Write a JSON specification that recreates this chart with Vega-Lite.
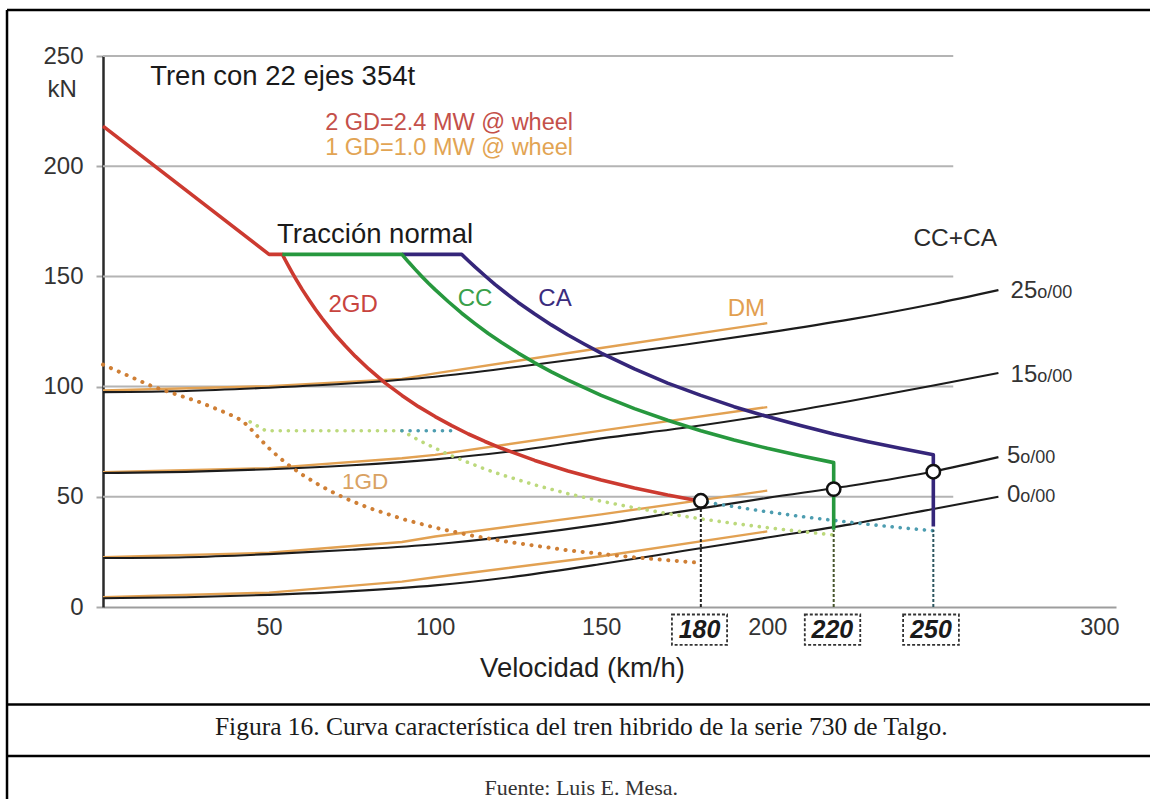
{
  "$schema": "https://vega.github.io/schema/vega-lite/v6.json",
  "width": 1013,
  "height": 551,
  "autosize": {"type": "none"},
  "padding": {"left": 103, "top": 56, "right": 34, "bottom": 192},
  "background": "white",
  "config": {"view": {"stroke": null}, "font": "Liberation Sans"},
  "datasets": {
    "curves": [
      {"s":"g25","i":0,"v":0,"f":97.5},{"s":"g25","i":1,"v":25,"f":98},{"s":"g25","i":2,"v":50,"f":99.5},{"s":"g25","i":3,"v":75,"f":101.5},{"s":"g25","i":4,"v":100,"f":104.5},{"s":"g25","i":5,"v":125,"f":109},{"s":"g25","i":6,"v":150,"f":114},{"s":"g25","i":7,"v":175,"f":119},{"s":"g25","i":8,"v":200,"f":124.5},{"s":"g25","i":9,"v":225,"f":130.5},{"s":"g25","i":10,"v":250,"f":137.5},{"s":"g25","i":11,"v":269.6,"f":143.8},
      {"s":"g15","i":0,"v":0,"f":60.8},{"s":"g15","i":1,"v":25,"f":61.3},{"s":"g15","i":2,"v":50,"f":62.5},{"s":"g15","i":3,"v":75,"f":64.3},{"s":"g15","i":4,"v":100,"f":67},{"s":"g15","i":5,"v":125,"f":71},{"s":"g15","i":6,"v":150,"f":76.5},{"s":"g15","i":7,"v":175,"f":81.3},{"s":"g15","i":8,"v":200,"f":87},{"s":"g15","i":9,"v":225,"f":93.5},{"s":"g15","i":10,"v":250,"f":100.5},{"s":"g15","i":11,"v":269.6,"f":106.2},
      {"s":"g5","i":0,"v":0,"f":22.2},{"s":"g5","i":1,"v":25,"f":22.6},{"s":"g5","i":2,"v":50,"f":24},{"s":"g5","i":3,"v":75,"f":26},{"s":"g5","i":4,"v":100,"f":28.5},{"s":"g5","i":5,"v":125,"f":32.5},{"s":"g5","i":6,"v":150,"f":37.5},{"s":"g5","i":7,"v":175,"f":43.5},{"s":"g5","i":8,"v":200,"f":49.5},{"s":"g5","i":9,"v":225,"f":55},{"s":"g5","i":10,"v":250,"f":61.5},{"s":"g5","i":11,"v":269.6,"f":68},
      {"s":"g0","i":0,"v":0,"f":4},{"s":"g0","i":1,"v":25,"f":4.4},{"s":"g0","i":2,"v":50,"f":5.5},{"s":"g0","i":3,"v":75,"f":7.2},{"s":"g0","i":4,"v":100,"f":9.8},{"s":"g0","i":5,"v":125,"f":14},{"s":"g0","i":6,"v":150,"f":19.5},{"s":"g0","i":7,"v":175,"f":25.5},{"s":"g0","i":8,"v":200,"f":31.5},{"s":"g0","i":9,"v":225,"f":37.5},{"s":"g0","i":10,"v":250,"f":44.5},{"s":"g0","i":11,"v":269.6,"f":50},
      {"s":"dm25","i":0,"v":0,"f":98.2},{"s":"dm25","i":1,"v":50,"f":100.2},{"s":"dm25","i":2,"v":90,"f":103.5},{"s":"dm25","i":3,"v":100,"f":106},{"s":"dm25","i":4,"v":150,"f":117.5},{"s":"dm25","i":5,"v":200,"f":128.8},
      {"s":"dm15","i":0,"v":0,"f":61.2},{"s":"dm15","i":1,"v":50,"f":63},{"s":"dm15","i":2,"v":90,"f":67.5},{"s":"dm15","i":3,"v":100,"f":69},{"s":"dm15","i":4,"v":150,"f":80},{"s":"dm15","i":5,"v":200,"f":90.7},
      {"s":"dm5","i":0,"v":0,"f":22.6},{"s":"dm5","i":1,"v":50,"f":24.6},{"s":"dm5","i":2,"v":90,"f":29.5},{"s":"dm5","i":3,"v":100,"f":32},{"s":"dm5","i":4,"v":150,"f":42},{"s":"dm5","i":5,"v":200,"f":52.8},
      {"s":"dm0","i":0,"v":0,"f":4.5},{"s":"dm0","i":1,"v":50,"f":6.5},{"s":"dm0","i":2,"v":90,"f":11.5},{"s":"dm0","i":3,"v":100,"f":13.5},{"s":"dm0","i":4,"v":150,"f":23},{"s":"dm0","i":5,"v":200,"f":34.3},
      {"s":"gd2","i":0,"v":0,"f":218.2},{"s":"gd2","i":1,"v":50,"f":160},{"s":"gd2","i":2,"v":54,"f":160},{"s":"gd2","i":3,"v":55,"f":157.1},{"s":"gd2","i":4,"v":56,"f":154.3},{"s":"gd2","i":5,"v":57,"f":151.6},{"s":"gd2","i":6,"v":58,"f":149},{"s":"gd2","i":7,"v":60,"f":144},{"s":"gd2","i":8,"v":62,"f":139.4},{"s":"gd2","i":9,"v":64,"f":135},{"s":"gd2","i":10,"v":66,"f":130.9},{"s":"gd2","i":11,"v":68,"f":127.1},{"s":"gd2","i":12,"v":70,"f":123.4},{"s":"gd2","i":13,"v":73,"f":118.4},{"s":"gd2","i":14,"v":76,"f":113.7},{"s":"gd2","i":15,"v":80,"f":108},{"s":"gd2","i":16,"v":85,"f":101.6},{"s":"gd2","i":17,"v":90,"f":96},{"s":"gd2","i":18,"v":95,"f":90.9},{"s":"gd2","i":19,"v":100,"f":86.4},{"s":"gd2","i":20,"v":105,"f":82.3},{"s":"gd2","i":21,"v":110,"f":78.5},{"s":"gd2","i":22,"v":115,"f":75.1},{"s":"gd2","i":23,"v":120,"f":72},{"s":"gd2","i":24,"v":130,"f":66.5},{"s":"gd2","i":25,"v":140,"f":61.7},{"s":"gd2","i":26,"v":150,"f":57.6},{"s":"gd2","i":27,"v":160,"f":54},{"s":"gd2","i":28,"v":170,"f":50.8},{"s":"gd2","i":29,"v":180,"f":48},
      {"s":"cc","i":0,"v":54,"f":160},{"s":"cc","i":1,"v":90,"f":160},{"s":"cc","i":2,"v":92,"f":156.5},{"s":"cc","i":3,"v":94,"f":153.2},{"s":"cc","i":4,"v":96,"f":150},{"s":"cc","i":5,"v":98,"f":146.9},{"s":"cc","i":6,"v":100,"f":144},{"s":"cc","i":7,"v":104,"f":138.5},{"s":"cc","i":8,"v":108,"f":133.3},{"s":"cc","i":9,"v":112,"f":128.6},{"s":"cc","i":10,"v":116,"f":124.1},{"s":"cc","i":11,"v":120,"f":120},{"s":"cc","i":12,"v":125,"f":115.2},{"s":"cc","i":13,"v":130,"f":110.8},{"s":"cc","i":14,"v":135,"f":106.7},{"s":"cc","i":15,"v":140,"f":102.9},{"s":"cc","i":16,"v":150,"f":96},{"s":"cc","i":17,"v":160,"f":90},{"s":"cc","i":18,"v":170,"f":84.7},{"s":"cc","i":19,"v":180,"f":80},{"s":"cc","i":20,"v":190,"f":75.8},{"s":"cc","i":21,"v":200,"f":72},{"s":"cc","i":22,"v":210,"f":68.6},{"s":"cc","i":23,"v":220,"f":65.5},{"s":"cc","i":24,"v":220,"f":35},
      {"s":"ca","i":0,"v":90,"f":160},{"s":"ca","i":1,"v":108,"f":160},{"s":"ca","i":2,"v":110,"f":157.1},{"s":"ca","i":3,"v":112,"f":154.3},{"s":"ca","i":4,"v":115,"f":150.3},{"s":"ca","i":5,"v":118,"f":146.4},{"s":"ca","i":6,"v":121,"f":142.8},{"s":"ca","i":7,"v":125,"f":138.2},{"s":"ca","i":8,"v":130,"f":132.9},{"s":"ca","i":9,"v":135,"f":128},{"s":"ca","i":10,"v":140,"f":123.4},{"s":"ca","i":11,"v":145,"f":119.2},{"s":"ca","i":12,"v":150,"f":115.2},{"s":"ca","i":13,"v":160,"f":108},{"s":"ca","i":14,"v":170,"f":101.6},{"s":"ca","i":15,"v":180,"f":96},{"s":"ca","i":16,"v":190,"f":90.9},{"s":"ca","i":17,"v":200,"f":86.4},{"s":"ca","i":18,"v":210,"f":82.3},{"s":"ca","i":19,"v":220,"f":78.5},{"s":"ca","i":20,"v":230,"f":75.1},{"s":"ca","i":21,"v":240,"f":72},{"s":"ca","i":22,"v":250,"f":69.1},{"s":"ca","i":23,"v":250,"f":36.5},
      {"s":"gd1","i":0,"v":0,"f":110},{"s":"gd1","i":1,"v":15,"f":100},{"s":"gd1","i":2,"v":29,"f":93},{"s":"gd1","i":3,"v":38,"f":87.5},{"s":"gd1","i":4,"v":42,"f":84.5},{"s":"gd1","i":5,"v":45,"f":80},{"s":"gd1","i":6,"v":47,"f":76.6},{"s":"gd1","i":7,"v":50,"f":72},{"s":"gd1","i":8,"v":53,"f":67.9},{"s":"gd1","i":9,"v":56,"f":64.3},{"s":"gd1","i":10,"v":60,"f":60},{"s":"gd1","i":11,"v":65,"f":55.4},{"s":"gd1","i":12,"v":70,"f":51.4},{"s":"gd1","i":13,"v":75,"f":48},{"s":"gd1","i":14,"v":80,"f":45},{"s":"gd1","i":15,"v":90,"f":40},{"s":"gd1","i":16,"v":100,"f":36},{"s":"gd1","i":17,"v":110,"f":32.7},{"s":"gd1","i":18,"v":120,"f":30},{"s":"gd1","i":19,"v":140,"f":25.7},{"s":"gd1","i":20,"v":160,"f":22.5},{"s":"gd1","i":21,"v":180,"f":20},
      {"s":"lg","i":0,"v":44.3,"f":84},{"s":"lg","i":1,"v":49,"f":80},{"s":"lg","i":2,"v":90,"f":80},{"s":"lg","i":3,"v":93,"f":77.4},{"s":"lg","i":4,"v":96,"f":75},{"s":"lg","i":5,"v":100,"f":72},{"s":"lg","i":6,"v":105,"f":68.6},{"s":"lg","i":7,"v":110,"f":65.5},{"s":"lg","i":8,"v":115,"f":62.6},{"s":"lg","i":9,"v":120,"f":60},{"s":"lg","i":10,"v":130,"f":55.4},{"s":"lg","i":11,"v":140,"f":51.4},{"s":"lg","i":12,"v":150,"f":48},{"s":"lg","i":13,"v":160,"f":45},{"s":"lg","i":14,"v":170,"f":42.4},{"s":"lg","i":15,"v":180,"f":40},{"s":"lg","i":16,"v":190,"f":37.9},{"s":"lg","i":17,"v":200,"f":36},{"s":"lg","i":18,"v":210,"f":34.3},{"s":"lg","i":19,"v":220,"f":32.7},
      {"s":"teal1","i":0,"v":90,"f":80},{"s":"teal1","i":1,"v":105,"f":80},
      {"s":"teal2","i":0,"v":182,"f":47.5},{"s":"teal2","i":1,"v":190,"f":45.5},{"s":"teal2","i":2,"v":200,"f":43.2},{"s":"teal2","i":3,"v":210,"f":41.1},{"s":"teal2","i":4,"v":220,"f":39.3},{"s":"teal2","i":5,"v":230,"f":37.6},{"s":"teal2","i":6,"v":240,"f":36},{"s":"teal2","i":7,"v":250,"f":34.6}
    ]
  },
  "encoding": {
    "x": {"field": "v", "type": "quantitative",
      "scale": {"domain": [0, 305], "nice": false, "zero": false},
      "axis": {"values": [50, 100, 150, 200, 300], "grid": false, "ticks": false, "tickSize": 0,
        "domainColor": "#9d9d9d", "domainWidth": 2,
        "labelFont": "Liberation Sans", "labelFontSize": 23.5, "labelColor": "#333333", "labelPadding": 8,
        "title": "Velocidad (km/h)", "titleFont": "Liberation Sans", "titleFontSize": 27.5, "titleFontWeight": "normal",
        "titleColor": "#1f1f1f", "titleX": 479, "titleY": 61, "titleAlign": "center", "titleBaseline": "middle"}},
    "y": {"field": "f", "type": "quantitative",
      "scale": {"domain": [0, 250], "nice": false, "zero": false},
      "axis": {"values": [0, 50, 100, 150, 200, 250], "grid": false, "ticks": true, "tickSize": 7, "tickWidth": 2,
        "tickColor": "#aaaaaa", "domainColor": "#2a2a2a", "domainWidth": 2.5,
        "labelFont": "Liberation Sans", "labelFontSize": 24, "labelColor": "#333333", "labelPadding": 13,
        "title": null}}
  },
  "layer": [
    {
      "data": {"values": [
        {"v": -28.9, "v2": 316, "f": 270.9, "f2": 270.9},
        {"v": -28.9, "v2": -28.9, "f": 270.9, "f2": -88},
        {"v": -28.9, "v2": 316, "f": -44.2, "f2": -44.2},
        {"v": -28.9, "v2": 316, "f": -67.6, "f2": -67.6}
      ]},
      "mark": {"type": "rule", "color": "#000000", "strokeWidth": 2.5},
      "encoding": {"x2": {"field": "v2"}, "y2": {"field": "f2"}}
    },
    {
      "data": {"values": [
        {"v": 0, "v2": 256, "f": 50}, {"v": 0, "v2": 256, "f": 100}, {"v": 0, "v2": 256, "f": 150},
        {"v": 0, "v2": 256, "f": 200}, {"v": 0, "v2": 256, "f": 250}
      ]},
      "mark": {"type": "rule", "color": "#b4b4b4", "strokeWidth": 2},
      "encoding": {"x2": {"field": "v2"}}
    },
    {
      "data": {"name": "curves"},
      "transform": [{"filter": {"field": "s", "oneOf": ["dm25", "dm15", "dm5", "dm0"]}}],
      "mark": {"type": "line", "color": "#e2a152", "strokeWidth": 2.4},
      "encoding": {"detail": {"field": "s"}, "order": {"field": "i", "type": "quantitative"}}
    },
    {
      "data": {"name": "curves"},
      "transform": [{"filter": {"field": "s", "oneOf": ["g25", "g15", "g5", "g0"]}}],
      "mark": {"type": "line", "color": "#1c1c1c", "strokeWidth": 2.1, "interpolate": "monotone"},
      "encoding": {"detail": {"field": "s"}, "order": {"field": "i", "type": "quantitative"}}
    },
    {
      "data": {"name": "curves"},
      "transform": [{"filter": {"field": "s", "equal": "gd1"}}],
      "mark": {"type": "line", "color": "#cf7f35", "strokeWidth": 4, "strokeDash": [0.1, 8.5], "strokeCap": "round"},
      "encoding": {"order": {"field": "i", "type": "quantitative"}}
    },
    {
      "data": {"name": "curves"},
      "transform": [{"filter": {"field": "s", "equal": "lg"}}],
      "mark": {"type": "line", "color": "#bcd97c", "strokeWidth": 3.6, "strokeDash": [0.1, 8], "strokeCap": "round"},
      "encoding": {"order": {"field": "i", "type": "quantitative"}}
    },
    {
      "data": {"name": "curves"},
      "transform": [{"filter": {"field": "s", "oneOf": ["teal1", "teal2"]}}],
      "mark": {"type": "line", "color": "#4d9db0", "strokeWidth": 3.6, "strokeDash": [0.1, 8], "strokeCap": "round"},
      "encoding": {"detail": {"field": "s"}, "order": {"field": "i", "type": "quantitative"}}
    },
    {
      "data": {"values": [{"v": 180, "f": 0, "f2": 47}]},
      "mark": {"type": "rule", "color": "#222222", "strokeWidth": 2, "strokeDash": [3, 2]},
      "encoding": {"y2": {"field": "f2"}}
    },
    {
      "data": {"values": [{"v": 220, "f": 0, "f2": 35}]},
      "mark": {"type": "rule", "color": "#46552c", "strokeWidth": 2, "strokeDash": [3, 2]},
      "encoding": {"y2": {"field": "f2"}}
    },
    {
      "data": {"values": [{"v": 250, "f": 0, "f2": 35}]},
      "mark": {"type": "rule", "color": "#2c5660", "strokeWidth": 2, "strokeDash": [3, 2]},
      "encoding": {"y2": {"field": "f2"}}
    },
    {
      "data": {"name": "curves"},
      "transform": [{"filter": {"field": "s", "equal": "gd2"}}],
      "mark": {"type": "line", "color": "#cc3a30", "strokeWidth": 3.6, "strokeJoin": "round"},
      "encoding": {"order": {"field": "i", "type": "quantitative"}}
    },
    {
      "data": {"name": "curves"},
      "transform": [{"filter": {"field": "s", "equal": "ca"}}],
      "mark": {"type": "line", "color": "#35267a", "strokeWidth": 3.6, "strokeJoin": "round"},
      "encoding": {"order": {"field": "i", "type": "quantitative"}}
    },
    {
      "data": {"name": "curves"},
      "transform": [{"filter": {"field": "s", "equal": "cc"}}],
      "mark": {"type": "line", "color": "#27983e", "strokeWidth": 3.6, "strokeJoin": "round"},
      "encoding": {"order": {"field": "i", "type": "quantitative"}}
    },
    {
      "data": {"values": [{"v": 180, "f": 48.2}, {"v": 220, "f": 53.5}, {"v": 250, "f": 61.4}]},
      "mark": {"type": "point", "shape": "circle", "filled": true, "fill": "#ffffff", "stroke": "#111111", "strokeWidth": 2.5, "size": 180, "opacity": 1}
    },
    {
      "data": {"values": [
        {"v": 171.3, "v2": 187.9, "f": -3.4, "f2": -17.2},
        {"v": 211.3, "v2": 228, "f": -3.4, "f2": -17.2},
        {"v": 240.9, "v2": 257.7, "f": -3.4, "f2": -17.2}
      ]},
      "mark": {"type": "rect", "fill": "#ffffff", "stroke": "#333333", "strokeWidth": 1.8, "strokeDash": [3, 2]},
      "encoding": {"x2": {"field": "v2"}, "y2": {"field": "f2"}}
    },
    {
      "data": {"values": [{"t": "180", "v": 179.6, "f": -10.4}, {"t": "220", "v": 219.6, "f": -10.4}, {"t": "250", "v": 249.3, "f": -10.4}]},
      "mark": {"type": "text", "font": "Liberation Sans", "fontSize": 25, "fontWeight": "bold", "fontStyle": "italic", "color": "#1a1a1a", "align": "center", "baseline": "middle"},
      "encoding": {"text": {"field": "t"}}
    },
    {
      "data": {"values": [{"t": "Tren con 22 ejes 354t", "v": 14.2, "f": 240.5}, {"t": "Tracción normal", "v": 52.4, "f": 168.8}]},
      "mark": {"type": "text", "font": "Liberation Sans", "fontSize": 27.5, "color": "#1a1a1a", "align": "left", "baseline": "middle"},
      "encoding": {"text": {"field": "t"}}
    },
    {
      "data": {"values": [{"t": "2 GD=2.4 MW @ wheel", "v": 66.9, "f": 219.4}]},
      "mark": {"type": "text", "font": "Liberation Sans", "fontSize": 23.5, "color": "#c4504a", "align": "left", "baseline": "middle"},
      "encoding": {"text": {"field": "t"}}
    },
    {
      "data": {"values": [{"t": "1 GD=1.0 MW @ wheel", "v": 66.9, "f": 208.1}]},
      "mark": {"type": "text", "font": "Liberation Sans", "fontSize": 23.5, "color": "#e2a453", "align": "left", "baseline": "middle"},
      "encoding": {"text": {"field": "t"}}
    },
    {
      "data": {"values": [{"t": "CC+CA", "v": 244, "f": 166.9}]},
      "mark": {"type": "text", "font": "Liberation Sans", "fontSize": 24.5, "color": "#2a2a2a", "align": "left", "baseline": "middle"},
      "encoding": {"text": {"field": "t"}}
    },
    {
      "data": {"values": [{"t": "2GD", "v": 75.3, "f": 137}]},
      "mark": {"type": "text", "font": "Liberation Sans", "fontSize": 24, "color": "#c8443e", "align": "center", "baseline": "middle"},
      "encoding": {"text": {"field": "t"}}
    },
    {
      "data": {"values": [{"t": "CC", "v": 112, "f": 139.7}]},
      "mark": {"type": "text", "font": "Liberation Sans", "fontSize": 24, "color": "#3aa04a", "align": "center", "baseline": "middle"},
      "encoding": {"text": {"field": "t"}}
    },
    {
      "data": {"values": [{"t": "CA", "v": 136.1, "f": 139.7}]},
      "mark": {"type": "text", "font": "Liberation Sans", "fontSize": 24, "color": "#3b2c7e", "align": "center", "baseline": "middle"},
      "encoding": {"text": {"field": "t"}}
    },
    {
      "data": {"values": [{"t": "DM", "v": 193.7, "f": 135.2}]},
      "mark": {"type": "text", "font": "Liberation Sans", "fontSize": 24, "color": "#e2a050", "align": "center", "baseline": "middle"},
      "encoding": {"text": {"field": "t"}}
    },
    {
      "data": {"values": [{"t": "1GD", "v": 78.9, "f": 56.6}]},
      "mark": {"type": "text", "font": "Liberation Sans", "fontSize": 22.5, "color": "#d9a263", "align": "center", "baseline": "middle"},
      "encoding": {"text": {"field": "t"}}
    },
    {
      "data": {"values": [{"t": "kN", "v": -12.3, "f": 234.6}]},
      "mark": {"type": "text", "font": "Liberation Sans", "fontSize": 24, "color": "#333333", "align": "center", "baseline": "middle"},
      "encoding": {"text": {"field": "t"}}
    },
    {
      "data": {"values": [{"t": "25", "v": 281.3, "f": 140.2}, {"t": "15", "v": 281.3, "f": 102.2}, {"t": "5", "v": 276.2, "f": 65.2}, {"t": "0", "v": 276.2, "f": 47.8}]},
      "mark": {"type": "text", "font": "Liberation Sans", "fontSize": 24, "color": "#333333", "align": "right", "baseline": "alphabetic"},
      "encoding": {"text": {"field": "t"}}
    },
    {
      "data": {"values": [{"t": "o/00", "v": 281.3, "f": 140.2}, {"t": "o/00", "v": 281.3, "f": 102.2}, {"t": "o/00", "v": 276.2, "f": 65.2}, {"t": "o/00", "v": 276.2, "f": 47.8}]},
      "mark": {"type": "text", "font": "Liberation Sans", "fontSize": 18, "color": "#333333", "align": "left", "baseline": "alphabetic"},
      "encoding": {"text": {"field": "t"}}
    },
    {
      "data": {"values": [{"t": "Figura 16. Curva característica del tren hibrido de la serie 730 de Talgo.", "v": 144, "f": -54.4}]},
      "mark": {"type": "text", "font": "Liberation Serif", "fontSize": 25.5, "color": "#1a1a1a", "align": "center", "baseline": "middle"},
      "encoding": {"text": {"field": "t"}}
    },
    {
      "data": {"values": [{"t": "Fuente: Luis E. Mesa.", "v": 144, "f": -81.9}]},
      "mark": {"type": "text", "font": "Liberation Serif", "fontSize": 22, "color": "#333333", "align": "center", "baseline": "middle"},
      "encoding": {"text": {"field": "t"}}
    }
  ]
}
